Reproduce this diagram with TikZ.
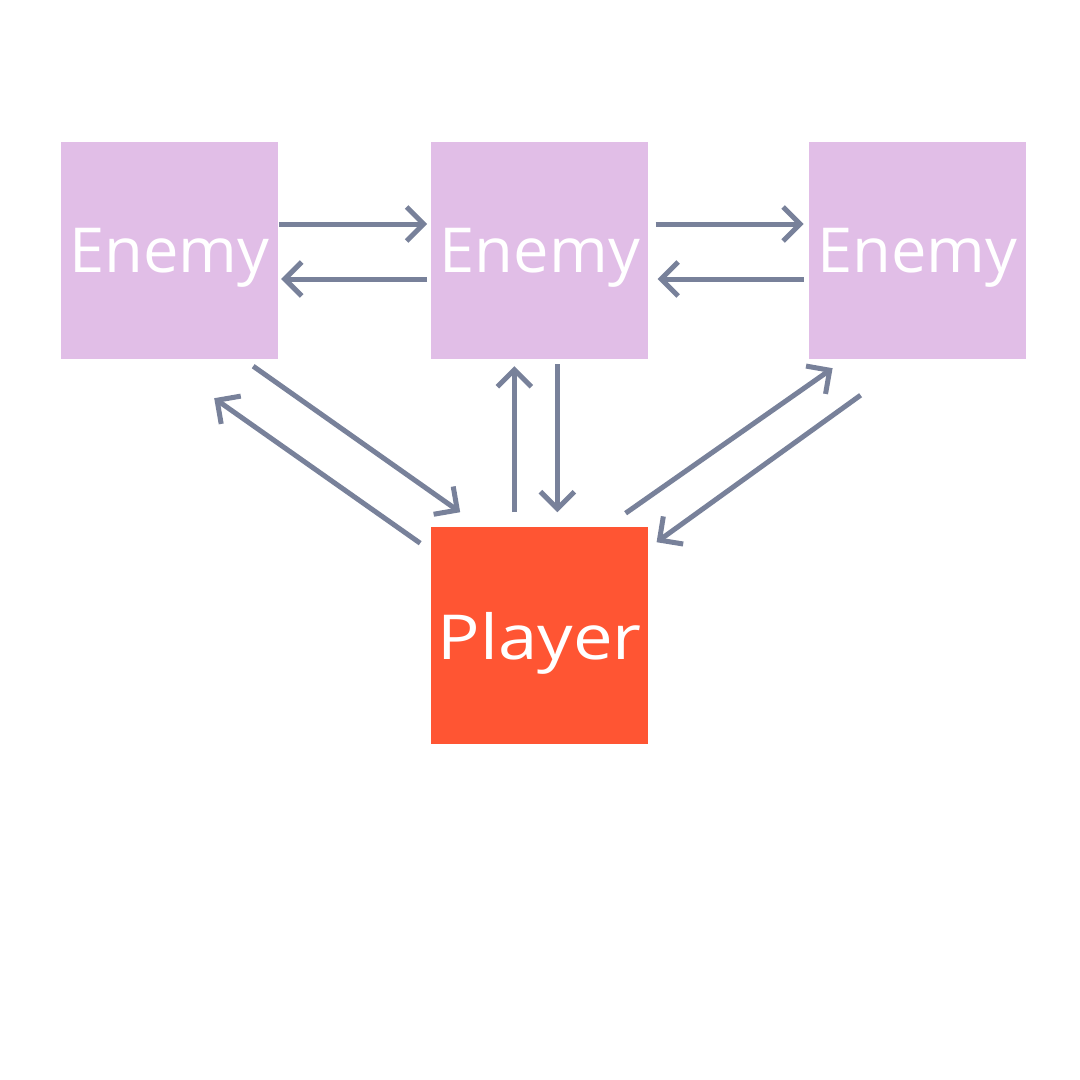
\documentclass[tikz,border=0pt]{standalone}
\usepackage{fontspec}
\setmainfont{Open Sans}
\usepackage{xcolor}
\usetikzlibrary{arrows.meta,positioning}

\definecolor{enemyfill}{HTML}{E1BEE7}
\definecolor{playerfill}{HTML}{FF5533}
\definecolor{linkgray}{HTML}{78819A}

\begin{document}
\begin{tikzpicture}[x=1pt, y=-1pt, node distance=153pt,
    actor/.style={minimum size=217pt, inner sep=0pt, text=white, text depth=0pt},
    enemy/.style={actor, fill=enemyfill, font=\fontsize{62}{70}\selectfont\addfontfeature{FakeStretch=1.02}},
    player/.style={actor, fill=playerfill, font=\fontsize{62}{70}\selectfont\addfontfeature{FakeStretch=1.14}},
    link/.style={-{Straight Barb[length=17pt, width=34pt]}, draw=linkgray, line width=5pt}]
  \useasboundingbox[fill=white] (0,0) rectangle (1080,1080);
	\node[enemy]  (E1) at (169.5,250.5) {Enemy};
  \node[enemy]  (E2) [right=153pt of E1] {Enemy};
  \node[enemy]  (E3) [right=160pt of E2] {Enemy};
  \node[player] (P)  [below=168pt of E2] {Player};
  % between the enemies
  \draw[link] ([shift={(1,-26.5)}]E1.east) -- ([shift={(-4,-26.5)}]E2.west);
  \draw[link] ([shift={(-4,28.5)}]E2.west) -- ([shift={(3,28.5)}]E1.east);
  \draw[link] ([shift={(7,-26.5)}]E2.east) -- ([shift={(-5,-26.5)}]E3.west);
  \draw[link] ([shift={(-5,28.5)}]E3.west) -- ([shift={(9,28.5)}]E2.east);
  % to and from the player
  \draw[link] ([shift={(-25.5,-15)}]P.north) -- ([shift={(-25.5,7)}]E2.south);
  \draw[link] ([shift={(17.5,5)}]E2.south) -- ([shift={(17.5,-15)}]P.north);
  \draw[link] ([shift={(-25,7)}]E1.south east) -- ([shift={(29,-15)}]P.north west);
  \draw[link] ([shift={(-11,16)}]P.north west) -- ([shift={(-64,39)}]E1.south east);
  \draw[link] ([shift={(-23,-14)}]P.north east) -- ([shift={(24,9)}]E3.south west);
  \draw[link] ([shift={(52,36)}]E3.south west) -- ([shift={(8,15)}]P.north east);
\end{tikzpicture}
\end{document}
